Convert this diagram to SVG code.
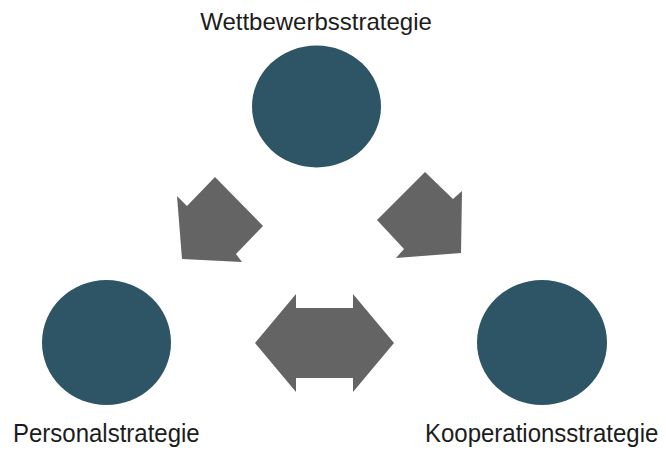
<svg xmlns="http://www.w3.org/2000/svg" width="666" height="452" viewBox="0 0 666 452">
  <style>
    .node { fill: #2d5566; }
    .label { font-family: "Liberation Sans", Arial, sans-serif; font-size: 24px; fill: #1c1c1c; }
    .arrow { fill: #646464; }
  </style>
  <rect width="666" height="452" fill="#ffffff"/>
  <g id="connectors">
    <polygon class="arrow" points="177,196 187,206 215,177 263,226 236,254 242,262 182,259"/>
    <polygon class="arrow" points="377,220 425,172 453,199 462,191 461,253 396,258 404,249"/>
    <polygon class="arrow" points="255,343 296,294 296,308 353,308 353,294 394,343 353,392 353,378 296,378 296,392"/>
  </g>
  <g id="wettbewerbsstrategie">
    <ellipse class="node" cx="316.5" cy="106.5" rx="64.5" ry="61"/>
    <text class="label" x="316" y="29.5" text-anchor="middle">Wettbewerbsstrategie</text>
  </g>
  <g id="personalstrategie">
    <ellipse class="node" cx="106.5" cy="342.5" rx="64.5" ry="62.5"/>
    <text class="label" transform="translate(13,442) scale(1,1.06)">Personalstrategie</text>
  </g>
  <g id="kooperationsstrategie">
    <ellipse class="node" cx="542" cy="342.5" rx="65" ry="62.5"/>
    <text class="label" transform="translate(425,442) scale(1,1.06)">Kooperationsstrategie</text>
  </g>
</svg>
